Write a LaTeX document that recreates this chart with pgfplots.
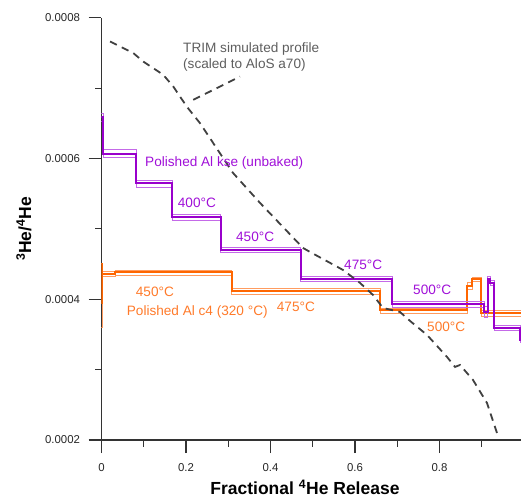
\documentclass[border=0pt]{standalone}
\usepackage{fontspec}
\setmainfont{Liberation Sans}
\usepackage{pgfplots}
\pgfplotsset{compat=1.18}
\definecolor{pur}{HTML}{9900CC}
\definecolor{purl}{HTML}{C46AE8}
\definecolor{purt}{HTML}{A010D8}
\definecolor{orn}{HTML}{FF6600}
\definecolor{ornl}{HTML}{FF9C60}
\definecolor{ornt}{HTML}{FF7A2A}
\definecolor{trim}{HTML}{404040}
\definecolor{axc}{HTML}{333333}
\definecolor{txtg}{HTML}{5E5E5E}
\newcommand{\annfont}{\fontsize{13.6}{15.6}\selectfont}
\begin{document}
\begin{tikzpicture}
\begin{axis}[
 at={(0pt,0pt)}, anchor=south west,
 scale only axis, width=419.5pt, height=422.3pt,
 xmin=0, xmax=0.9929, ymin=0.0002, ymax=0.0008,
 axis x line=bottom, axis y line=left,
 axis line style={-, axc, line width=1.1pt},
 tick align=outside,
 major tick length=13pt, minor tick length=6.5pt,
 tick style={axc, line width=1.1pt},
 scaled x ticks=false, scaled y ticks=false,
 xtick={0,0.2,0.4,0.6,0.8}, xticklabels={0,0.2,0.4,0.6,0.8},
 minor xtick={0.1,0.3,0.5,0.7,0.9},
 ytick={0.0002,0.0004,0.0006,0.0008}, yticklabels={0.0002,0.0004,0.0006,0.0008},
 minor ytick={0.0003,0.0005,0.0007},
 ticklabel style={font=\fontsize{11.4}{13}\selectfont, text=black!85},
 yticklabel style={xshift=-5pt},
 xticklabel style={yshift=-7pt},
 /pgf/number format/assume math mode=true,
 xlabel={Fractional \textsuperscript{4}He Release},
 ylabel={\textsuperscript{3}He/\textsuperscript{4}He},
 label style={font=\bfseries\fontsize{17.5}{20}\selectfont},
 xlabel style={at={(axis description cs:0.485,-0.113)}, anchor=center},
 ylabel style={at={(axis description cs:-0.185,0.5)}, anchor=center},
 clip=true,
]
% ---- orange: Polished Al c4 ----
\addplot[const plot, ornl, line width=0.9pt] coordinates {(0,0.0004502) (0.002,0.0004392) (0.032,0.0004416) (0.3077,0.0004156) (0.6592,0.0003876) (0.8651,0.0004232) (0.8769,0.0004310) (0.8982,0.0003834) (1.05,0.0003834)};
\addplot[const plot, ornl, line width=0.9pt] coordinates {(0,0.0003606) (0.002,0.0004317) (0.032,0.0004338) (0.3077,0.0004075) (0.6592,0.0003801) (0.8651,0.0004132) (0.8769,0.0004246) (0.8982,0.0003756) (1.05,0.0003756)};
\addplot[const plot, orn, line width=2pt] coordinates {(0,0.0004502) (0.001,0.0003947) (0.002,0.0004360) (0.032,0.0004381) (0.3077,0.0004118) (0.6592,0.0003841) (0.8651,0.0004189) (0.8769,0.0004281) (0.8982,0.0003798) (1.05,0.0003798)};
% ---- purple: Polished Al kse ----
\addplot[const plot, purl, line width=0.9pt] coordinates {(0,0.0006634) (0.004,0.0006122) (0.0817,0.0005682) (0.1669,0.0005208) (0.2821,0.0004734) (0.4715,0.0004321) (0.6883,0.0003966) (0.9053,0.0003891) (0.9136,0.0004324) (0.9195,0.0004260) (0.9297,0.0003628) (0.9905,0.0003457) (1.05,0.0003457)};
\addplot[const plot, purl, line width=0.9pt] coordinates {(0,0.0006520) (0.004,0.0006009) (0.0817,0.0005586) (0.1669,0.0005117) (0.2821,0.0004668) (0.4715,0.0004250) (0.6883,0.0003886) (0.9053,0.0003748) (0.9136,0.0004246) (0.9195,0.0004189) (0.9297,0.0003557) (0.9905,0.0003386) (1.05,0.0003386)};
\addplot[const plot, pur, line width=2pt] coordinates {(0,0.0006596) (0.004,0.0006065) (0.0817,0.0005646) (0.1669,0.0005166) (0.2821,0.0004701) (0.4715,0.0004289) (0.6883,0.0003933) (0.9053,0.0003819) (0.9136,0.0004289) (0.9195,0.0004225) (0.9297,0.0003592) (0.9905,0.0003421) (1.05,0.0003421)};
% ---- TRIM simulated profile ----
\addplot[trim, line width=1.8pt, dash pattern=on 7.5pt off 5.5pt] coordinates {(0.0204,0.0007662) (0.0753,0.0007497) (0.0989,0.0007377) (0.1463,0.0007188) (0.1699,0.0007022) (0.2017,0.0006738) (0.2331,0.0006502) (0.2646,0.0006217) (0.3112,0.0005795) (0.3751,0.0005369) (0.4769,0.0004729) (0.4935,0.0004672) (0.5716,0.0004416) (0.6118,0.0004232) (0.6426,0.0004061) (0.6663,0.0003876) (0.7065,0.0003819) (0.7302,0.0003692) (0.7704,0.0003493) (0.8178,0.0003180) (0.8367,0.0003038) (0.8485,0.0003066) (0.8793,0.0002853) (0.9124,0.0002526) (0.9361,0.0002100)};
\addplot[trim, line width=1.8pt, dash pattern=on 7.5pt off 5.5pt] coordinates {(0.2172,0.0006833) (0.3278,0.0007164)};
% ---- annotations ----
\node[anchor=west, inner sep=0, text=txtg, font=\annfont, align=left] at (axis cs:0.1929,0.0007444) {TRIM simulated profile\\(scaled to AloS a70)};
\node[anchor=west, inner sep=0, text=purt, font=\annfont] at (axis cs:0.1030,0.0005942) {Polished Al kse (unbaked)};
\node[anchor=west, inner sep=0, text=purt, font=\annfont] at (axis cs:0.1804,0.0005365) {400°C};
\node[anchor=west, inner sep=0, text=purt, font=\annfont] at (axis cs:0.3183,0.0004890) {450°C};
\node[anchor=west, inner sep=0, text=purt, font=\annfont] at (axis cs:0.5740,0.0004488) {475°C};
\node[anchor=west, inner sep=0, text=purt, font=\annfont] at (axis cs:0.7373,0.0004132) {500°C};
\node[anchor=west, inner sep=0, text=ornt, font=\annfont] at (axis cs:0.0809,0.0004108) {450°C};
\node[anchor=west, inner sep=0, text=ornt, font=\annfont] at (axis cs:0.0596,0.0003824) {Polished Al c4 (320 °C)};
\node[anchor=west, inner sep=0, text=ornt, font=\annfont] at (axis cs:0.4147,0.0003886) {475°C};
\node[anchor=west, inner sep=0, text=ornt, font=\annfont] at (axis cs:0.7704,0.0003602) {500°C};
\end{axis}
\pgfresetboundingbox
\path[use as bounding box] (-101.5pt,-58pt) rectangle (419.5pt,440pt);
\end{tikzpicture}
\end{document}
